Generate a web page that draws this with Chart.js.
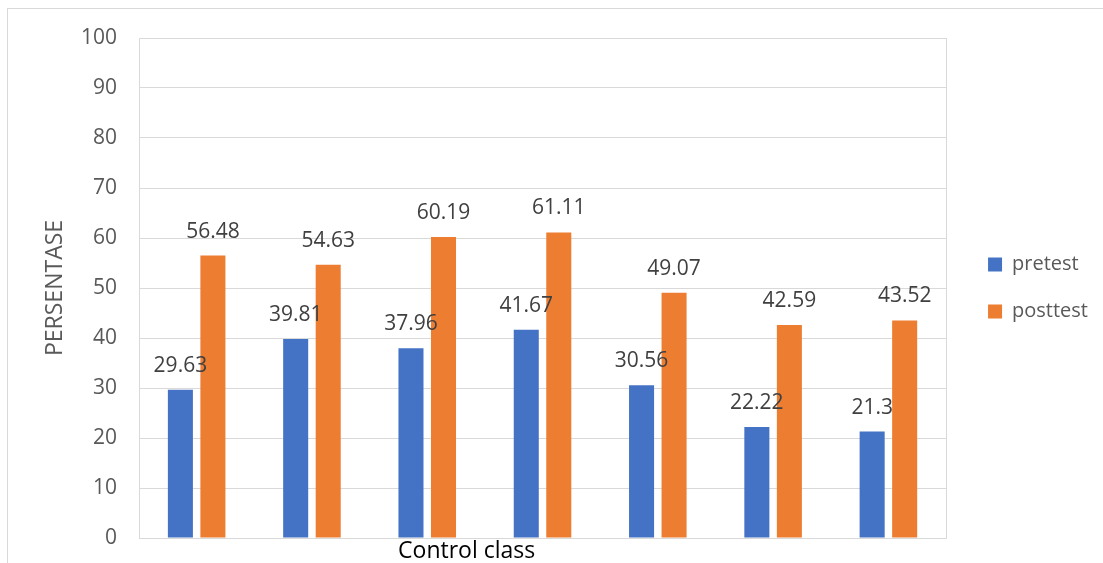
<!DOCTYPE html>
<html>
<head>
<meta charset="utf-8">
<script src="https://cdn.jsdelivr.net/npm/chart.js@4"></script>
<style>
  html, body { margin: 0; padding: 0; background: #fff; }
  #wrap { width: 1103px; height: 563px; position: relative; }
</style>
</head>
<body>
<div id="wrap"><canvas id="chart"></canvas></div>
<script>
// values
const categories = ['1', '2', '3', '4', '5', '6', '7'];
const pretest = [29.63, 39.81, 37.96, 41.67, 30.56, 22.22, 21.3];
const posttest = [56.48, 54.63, 60.19, 61.11, 49.07, 42.59, 43.52];
const yTicks = [0, 10, 20, 30, 40, 50, 60, 70, 80, 90, 100];
const xTitle = 'Control class';
const yTitle = 'PERSENTASE';

const GRID = '#d9d9d9';
const TEXT = '#595959';
Chart.defaults.font.family = "'Open Sans', sans-serif";

// outer frame of the chart object
const framePlugin = {
  id: 'frame',
  beforeDraw(chart) {
    const ctx = chart.ctx;
    ctx.save();
    ctx.strokeStyle = GRID;
    ctx.lineWidth = 1;
    ctx.strokeRect(7.5, 8.5, chart.width + 20, chart.height + 20);
    ctx.restore();
  }
};

// value labels above bars
const valueLabels = {
  id: 'valueLabels',
  afterDatasetsDraw(chart) {
    const ctx = chart.ctx;
    ctx.save();
    ctx.font = "21px 'Open Sans', sans-serif";
    ctx.fillStyle = '#404040';
    ctx.textAlign = 'center';
    ctx.textBaseline = 'alphabetic';
    chart.data.datasets.forEach((ds, i) => {
      chart.getDatasetMeta(i).data.forEach((bar, j) => {
        ctx.fillText(String(ds.data[j]), bar.x, bar.y - 18);
      });
    });
    ctx.restore();
  }
};

// category caption under the axis (sits left of centre, as in the source)
const xCaption = {
  id: 'xCaption',
  afterDraw(chart) {
    const a = chart.chartArea;
    const ctx = chart.ctx;
    ctx.save();
    ctx.font = "23px 'Open Sans', sans-serif";
    ctx.fillStyle = '#000';
    ctx.textAlign = 'center';
    ctx.textBaseline = 'alphabetic';
    ctx.fillText(xTitle, a.left + a.width * 0.406, a.bottom + 20);
    ctx.restore();
  }
};

new Chart(document.getElementById('chart'), {
  type: 'bar',
  data: {
    labels: categories,
    datasets: [
      { label: 'pretest', data: pretest, backgroundColor: '#4472C4', borderWidth: 0 },
      { label: 'posttest', data: posttest, backgroundColor: '#ED7D31', borderWidth: 0 }
    ]
  },
  options: {
    responsive: true,
    maintainAspectRatio: false,
    animation: false,
    datasets: { bar: { categoryPercentage: 0.564, barPercentage: 0.77 } },
    layout: { padding: { top: 38, bottom: 25, left: 20, right: 5 } },
    plugins: {
      legend: {
        position: 'right',
        labels: {
          boxWidth: 14,
          boxHeight: 14,
          padding: 27,
          color: TEXT,
          font: { size: 20 }
        }
      },
      tooltip: { enabled: false }
    },
    scales: {
      x: { display: false },
      y: {
        min: 0,
        max: 100,
        afterBuildTicks: s => { s.ticks = yTicks.map(v => ({ value: v })); },
        afterFit: s => { s.width = 119; },
        ticks: { color: TEXT, padding: 0, font: { size: 21 } },
        grid: { color: GRID, drawTicks: true, tickLength: 22, tickColor: 'rgba(0,0,0,0)' },
        border: { display: true, color: GRID },
        title: {
          display: true,
          text: yTitle,
          color: TEXT,
          font: { size: 23 },
          padding: { top: 22, bottom: 11 }
        }
      },
      yR: {
        position: 'right',
        min: 0,
        max: 100,
        ticks: { display: false },
        grid: { drawOnChartArea: false, drawTicks: false },
        border: { display: true, color: GRID },
        afterFit: s => { s.width = 15; }
      }
    }
  },
  plugins: [framePlugin, valueLabels, xCaption]
});
</script>
</body>
</html>
